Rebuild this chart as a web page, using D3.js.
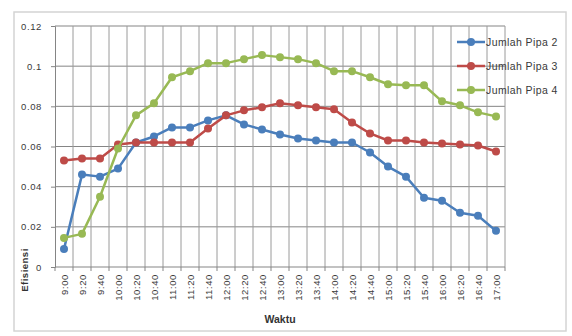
<!DOCTYPE html>
<html>
<head>
<meta charset="utf-8">
<script src="https://cdn.jsdelivr.net/npm/d3@7"></script>
<style>
  html, body { margin: 0; padding: 0; background: #fff; }
  svg { display: block; }
  text { font-family: "Liberation Sans", Arial, sans-serif; }
</style>
</head>
<body>
<svg id="chart" width="572" height="336"></svg>
<script>
// Time of measurement, every 20 minutes
const categories = ["9:00","9:20","9:40","10:00","10:20","10:40","11:00","11:20","11:40",
  "12:00","12:20","12:40","13:00","13:20","13:40","14:00","14:20","14:40","15:00","15:20",
  "15:40","16:00","16:20","16:40","17:00"];

// Efficiency per number of pipes
const pipa2 = [0.009, 0.046, 0.045, 0.049, 0.062, 0.065, 0.0695, 0.0695, 0.073, 0.0755, 0.071,
  0.0685, 0.066, 0.064, 0.063, 0.062, 0.062, 0.057, 0.050, 0.045, 0.0345, 0.033, 0.027, 0.0255, 0.018];
const pipa3 = [0.053, 0.054, 0.054, 0.061, 0.062, 0.062, 0.062, 0.062, 0.069, 0.0755, 0.078,
  0.0795, 0.0815, 0.0805, 0.0795, 0.0785, 0.072, 0.0665, 0.063, 0.063, 0.062, 0.0615, 0.061, 0.0605, 0.0575];
const pipa4 = [0.0145, 0.0165, 0.035, 0.059, 0.0755, 0.0815, 0.0945, 0.0975, 0.1015, 0.1015, 0.1035,
  0.1055, 0.1045, 0.1035, 0.1015, 0.0975, 0.0975, 0.0945, 0.091, 0.0905, 0.0905, 0.0825, 0.0805, 0.077, 0.075];

const seriesNames = ["Jumlah Pipa 2", "Jumlah Pipa 3", "Jumlah Pipa 4"];
const seriesColors = ["#4a7ebb", "#be4b48", "#98b954"];
const yTicks = [0, 0.02, 0.04, 0.06, 0.08, 0.1, 0.12];
const yTickLabels = ["0", "0.02", "0.04", "0.06", "0.08", "0.1", "0.12"];

const series = [pipa2, pipa3, pipa4].map((values, i) => ({
  name: seriesNames[i], color: seriesColors[i], values
}));

const svg = d3.select("#chart");
const plot = { left: 55, right: 505, top: 26, bottom: 267 };

// Outer chart frame
svg.append("rect")
  .attr("x", 14).attr("y", 12).attr("width", 552).attr("height", 319)
  .attr("fill", "#fff").attr("stroke", "#d4d4d4").attr("stroke-width", 1.5);

const x = d3.scaleBand().domain(categories).range([plot.left, plot.right]).padding(0);
const y = d3.scaleLinear().domain([0, 0.12]).range([plot.bottom, plot.top]);

// Horizontal gridlines
svg.append("g").selectAll("line").data(yTicks.slice(1)).join("line")
  .attr("x1", plot.left).attr("x2", plot.right)
  .attr("y1", d => y(d)).attr("y2", d => y(d))
  .attr("stroke", "#858585").attr("stroke-width", 1);

// Vertical gridlines at category boundaries
const bounds = categories.map(c => x(c)).concat([plot.right]).slice(1);
svg.append("g").selectAll("line").data(bounds).join("line")
  .attr("x1", d => d).attr("x2", d => d)
  .attr("y1", plot.top).attr("y2", plot.bottom)
  .attr("stroke", "#9a9a9a").attr("stroke-width", 1);

// Y axis
const yAxis = d3.axisLeft(y).tickValues(yTicks)
  .tickFormat((d, i) => yTickLabels[i]).tickSize(4).tickPadding(9);
const gy = svg.append("g").attr("transform", `translate(${plot.left},0)`).call(yAxis);
gy.select(".domain").attr("stroke", "#858585");
gy.selectAll(".tick line").attr("stroke", "#858585");
gy.selectAll(".tick text").attr("font-size", 9.5).attr("letter-spacing", 0.6).attr("fill", "#3a3a3a");

// X axis: ticks at category boundaries, rotated labels at centers
const gx = svg.append("g").attr("transform", `translate(0,${plot.bottom})`);
gx.append("line").attr("x1", plot.left).attr("x2", plot.right)
  .attr("stroke", "#858585");
gx.selectAll("line.tk").data([plot.left].concat(bounds)).join("line")
  .attr("class", "tk")
  .attr("x1", d => d).attr("x2", d => d).attr("y1", 0).attr("y2", 4)
  .attr("stroke", "#858585");
gx.selectAll("text").data(categories).join("text")
  .attr("transform", d => `translate(${x(d) + x.bandwidth() / 2 + 3.5},7) rotate(-90)`)
  .attr("text-anchor", "end")
  .attr("font-size", 9.5).attr("letter-spacing", 0.6).attr("fill", "#3a3a3a")
  .text(d => d);

// Axis titles
svg.append("text")
  .attr("x", (plot.left + plot.right) / 2).attr("y", 323)
  .attr("text-anchor", "middle").attr("font-size", 10.5).attr("font-weight", "bold")
  .attr("fill", "#333").text("Waktu");
svg.append("text")
  .attr("transform", "translate(28,270) rotate(-90)")
  .attr("text-anchor", "middle").attr("font-size", 9.5).attr("font-weight", "bold")
  .attr("letter-spacing", 0.5)
  .attr("fill", "#333").text("Efisiensi");

// Series lines and markers
const line = d3.line()
  .x((d, i) => x(categories[i]) + x.bandwidth() / 2)
  .y(d => y(d));

series.forEach(s => {
  const g = svg.append("g");
  g.append("path").datum(s.values)
    .attr("d", line).attr("fill", "none")
    .attr("stroke", s.color).attr("stroke-width", 2.5).attr("stroke-linejoin", "round");
  g.selectAll("circle").data(s.values).join("circle")
    .attr("cx", (d, i) => x(categories[i]) + x.bandwidth() / 2)
    .attr("cy", d => y(d))
    .attr("r", 4)
    .attr("fill", s.color);
});

// Legend
const legend = svg.append("g");
series.forEach((s, i) => {
  const ly = 42 + i * 24;
  legend.append("line").attr("x1", 457).attr("x2", 485)
    .attr("y1", ly).attr("y2", ly)
    .attr("stroke", s.color).attr("stroke-width", 2.5);
  legend.append("circle").attr("cx", 471).attr("cy", ly).attr("r", 4).attr("fill", s.color);
  legend.append("text").attr("x", 486).attr("y", ly + 3.5)
    .attr("font-size", 10.5).attr("letter-spacing", 0.4).attr("fill", "#3a3a3a").text(s.name);
});
</script>
</body>
</html>
